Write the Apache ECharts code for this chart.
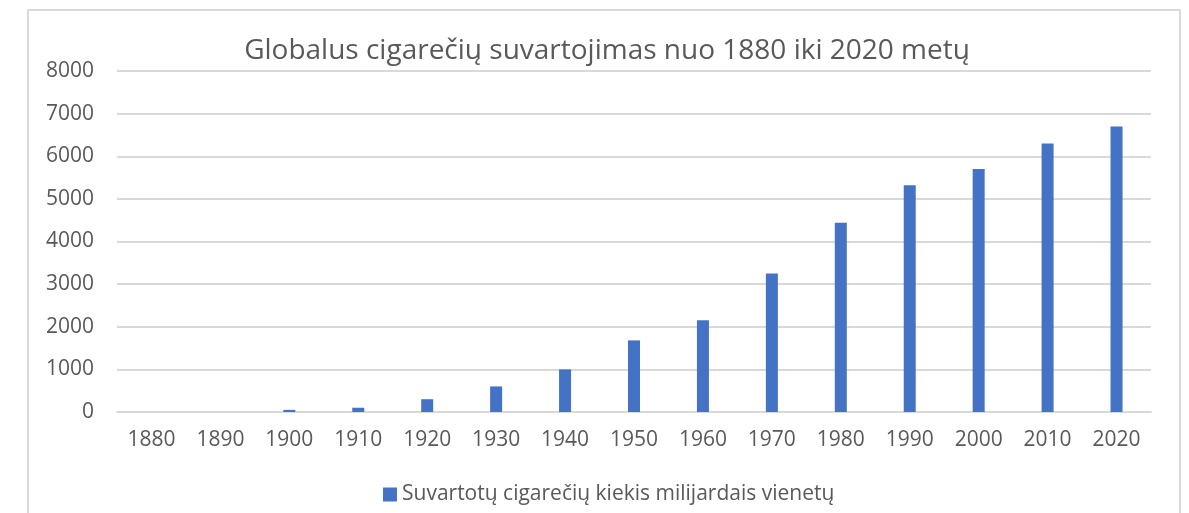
<!DOCTYPE html>
<html>
<head>
<meta charset="utf-8">
<script src="https://cdn.jsdelivr.net/npm/echarts@6/dist/echarts.min.js"></script>
<style>
  html, body { margin: 0; padding: 0; background: #ffffff; }
  #chart { width: 1189px; height: 513px; }
</style>
</head>
<body>
<div id="chart"></div>
<script>
// Years on the category axis
const years = ['1880', '1890', '1900', '1910', '1920', '1930', '1940', '1950',
               '1960', '1970', '1980', '1990', '2000', '2010', '2020'];
// Cigarettes consumed, billions of units
const consumption = [0, 0, 50, 100, 300, 600, 1000, 1680, 2150, 3250, 4440, 5320, 5700, 6300, 6700];
const seriesName = 'Suvartotų cigarečių kiekis milijardais vienetų';
const chartTitle = 'Globalus cigarečių suvartojimas nuo 1880 iki 2020 metų';

const textColor = '#595959';
const gridColor = '#d9d9d9';
const barColor = '#4472C4';
const font = 'Open Sans, Noto Sans, sans-serif';

const chart = echarts.init(document.getElementById('chart'));
chart.setOption({
  backgroundColor: '#ffffff',
  animation: false,
  graphic: [{
    type: 'rect',
    silent: true,
    shape: { x: 28, y: 10, width: 1152, height: 560 },
    style: { fill: 'none', stroke: gridColor, lineWidth: 2 }
  }],
  title: {
    text: chartTitle,
    left: 602,
    textAlign: 'center',
    top: 32,
    textStyle: { color: textColor, fontFamily: font, fontSize: 28, fontWeight: 'normal' }
  },
  legend: {
    data: [seriesName],
    left: 378,
    bottom: 3,
    itemWidth: 14,
    itemHeight: 14,
    icon: 'rect',
    itemGap: 6,
    textStyle: { color: textColor, fontFamily: font, fontSize: 21 }
  },
  grid: { left: 117, right: 38, top: 71, bottom: 101, containLabel: false },
  xAxis: {
    type: 'category',
    data: years,
    axisLine: { lineStyle: { color: gridColor, width: 2 } },
    axisTick: { show: false },
    axisLabel: { color: textColor, fontFamily: font, fontSize: 21, margin: 18 }
  },
  yAxis: {
    type: 'value',
    min: 0,
    max: 8000,
    interval: 1000,
    axisLine: { show: false },
    axisTick: { show: false },
    splitLine: { lineStyle: { color: gridColor, width: 2 } },
    axisLabel: {
      color: textColor, fontFamily: font, fontSize: 21, margin: 23,
      formatter: (v) => String(v)
    }
  },
  series: [{
    name: seriesName,
    type: 'bar',
    data: consumption,
    barWidth: 12,
    itemStyle: { color: barColor }
  }]
});
</script>
</body>
</html>
